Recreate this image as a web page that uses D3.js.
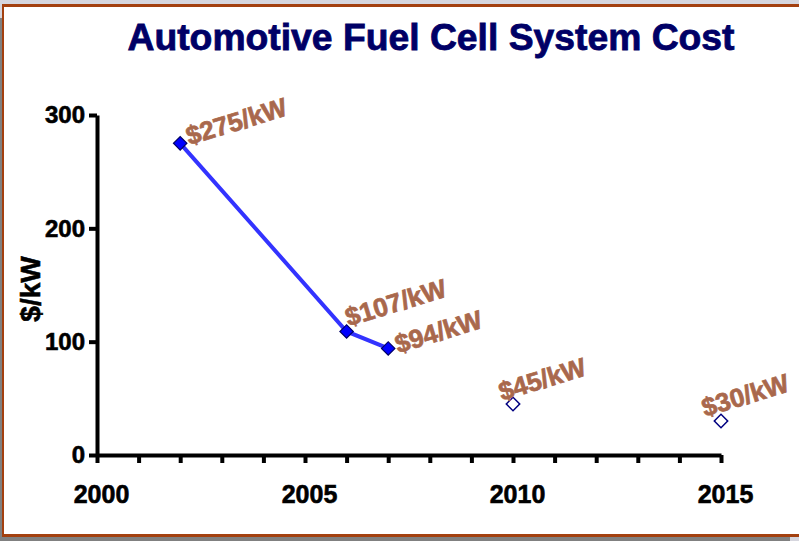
<!DOCTYPE html>
<html>
<head>
<meta charset="utf-8">
<script src="https://cdn.jsdelivr.net/npm/d3@7"></script>
<style>
  body { margin: 0; background: #d6d6de; }
  svg { display: block; font-family: "Liberation Sans", Arial, sans-serif; }
</style>
</head>
<body>
<div id="chart"></div>
<script>
// chart data
var years = [2002, 2006, 2007];
var costs = [275, 109, 94];
var costLabels = ["$275/kW", "$107/kW", "$94/kW"];
var targetYears = [2010, 2015];
var targets = [45, 30];
var targetLabels = ["$45/kW", "$30/kW"];
var yTicks = [0, 100, 200, 300];
var xLabelYears = [2000, 2005, 2010, 2015];

var W = 799, H = 541;
var svg = d3.select("#chart").append("svg")
    .attr("width", W).attr("height", H);

// frame: grey backdrop, brown border, white sheet
svg.append("rect").attr("width", W).attr("height", H).attr("fill", "#d6d6de");
svg.append("rect").attr("x", 0).attr("y", 18).attr("width", 790).attr("height", H - 18).attr("fill", "#808080");
svg.append("rect").attr("x", 2).attr("y", 4).attr("width", W + 10).attr("height", 533).attr("fill", "#a3400f");
svg.append("rect").attr("x", 4).attr("y", 7).attr("width", W + 10).attr("height", 527).attr("fill", "#ffffff");

svg.append("text")
    .attr("x", 431).attr("y", 50)
    .attr("text-anchor", "middle")
    .attr("textLength", 607).attr("lengthAdjust", "spacingAndGlyphs")
    .style("font-size", "37px").style("font-weight", "bold")
    .attr("fill", "#000066").attr("stroke", "#000066").attr("stroke-width", 0.8)
    .text("Automotive Fuel Cell System Cost");

var x = d3.scaleLinear().domain([2000, 2015]).range([97, 721]);
var y = d3.scaleLinear().domain([0, 300]).range([455, 115]);

// x axis, a tick every year, labels every 5
var xAxis = svg.append("g")
    .attr("transform", "translate(0," + y(0) + ")")
    .call(d3.axisBottom(x)
        .tickValues(d3.range(2000, 2016))
        .tickSize(8).tickSizeOuter(0).tickPadding(22)
        .tickFormat(function(d){ return xLabelYears.indexOf(d) >= 0 ? d : ""; }));

var yAxis = svg.append("g")
    .attr("transform", "translate(" + x(2000) + ",0)")
    .call(d3.axisLeft(y)
        .tickValues(yTicks)
        .tickSize(8).tickSizeOuter(0).tickPadding(4));

[xAxis, yAxis].forEach(function(g){
    g.select(".domain").attr("stroke", "#000").attr("stroke-width", 4);
    g.selectAll(".tick line").attr("stroke", "#000").attr("stroke-width", 4);
    g.selectAll("text").attr("fill", "#000").attr("stroke", "#000").attr("stroke-width", 0.6)
        .style("font-weight", "bold");
});
xAxis.selectAll("text").style("font-size", "25px").attr("dx", 4);
yAxis.selectAll("text").style("font-size", "24px");

svg.append("text")
    .attr("transform", "translate(40,289) rotate(-90)")
    .attr("text-anchor", "middle")
    .style("font-size", "28px").style("font-weight", "bold")
    .attr("stroke", "#000").attr("stroke-width", 0.6)
    .text("$/kW");

// measured series
var pts = years.map(function(d, i){ return {year: d, cost: costs[i], label: costLabels[i]}; });
var tpts = targetYears.map(function(d, i){ return {year: d, cost: targets[i], label: targetLabels[i]}; });

svg.append("path")
    .datum(pts)
    .attr("fill", "none")
    .attr("stroke", "#3333ff")
    .attr("stroke-width", 4)
    .attr("d", d3.line().x(function(d){ return x(d.year); }).y(function(d){ return y(d.cost); }));

var diamond = d3.symbol().type(d3.symbolSquare).size(90);

svg.selectAll(".pt").data(pts).enter().append("path")
    .attr("d", diamond)
    .attr("transform", function(d){ return "translate(" + x(d.year) + "," + y(d.cost) + ") rotate(45)"; })
    .attr("fill", "#0000ff").attr("stroke", "#000066").attr("stroke-width", 1.2);

svg.selectAll(".tpt").data(tpts).enter().append("path")
    .attr("d", diamond)
    .attr("transform", function(d){ return "translate(" + x(d.year) + "," + y(d.cost) + ") rotate(45)"; })
    .attr("fill", "#fff").attr("stroke", "#000080").attr("stroke-width", 1.5);

// value labels, nudged like the original
var nudge = {2002: [9, 2], 2006: [2, -5], 2007: [10, 5], 2010: [-11, -3], 2015: [-16, -4]};
svg.selectAll(".lbl").data(pts.concat(tpts)).enter().append("text")
    .attr("transform", function(d){
        var n = nudge[d.year];
        return "translate(" + (x(d.year) + n[0]) + "," + (y(d.cost) + n[1]) + ") rotate(-17)";
    })
    .style("font-size", "26px").style("font-weight", "bold")
    .attr("fill", "#a9684c").attr("stroke", "#a9684c").attr("stroke-width", 0.7)
    .text(function(d){ return d.label; });
</script>
</body>
</html>
